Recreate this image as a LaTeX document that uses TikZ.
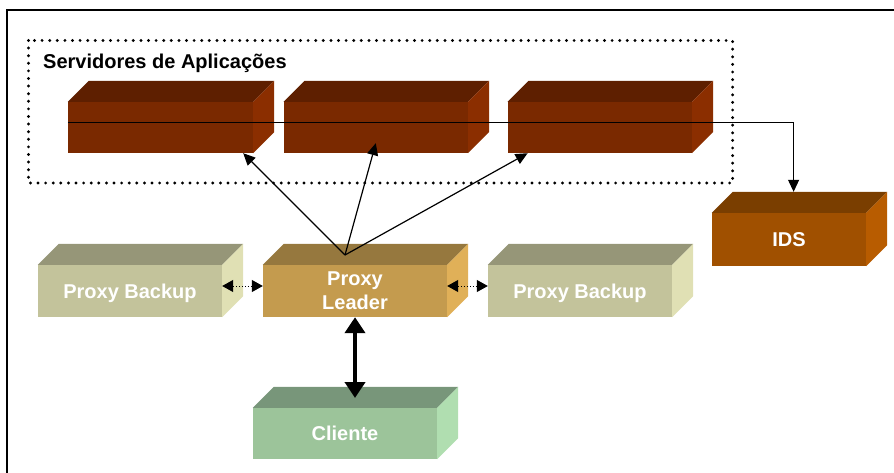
\documentclass[tikz,border=0pt]{standalone}
\usepackage{fontspec}
\setmainfont{Liberation Sans}
\usetikzlibrary{arrows.meta}

\definecolor{srvfront}{HTML}{7A2900}
\definecolor{srvtop}{HTML}{5E1F00}
\definecolor{srvside}{HTML}{8B2E00}
\definecolor{leadfront}{HTML}{C49B4E}
\definecolor{leadtop}{HTML}{96783E}
\definecolor{leadside}{HTML}{E0B058}
\definecolor{bkpfront}{HTML}{C3C39B}
\definecolor{bkptop}{HTML}{969678}
\definecolor{bkpside}{HTML}{E0E0B4}
\definecolor{clifront}{HTML}{9CC49A}
\definecolor{clitop}{HTML}{78967A}
\definecolor{cliside}{HTML}{B0DEB0}
\definecolor{idsfront}{HTML}{A05000}
\definecolor{idstop}{HTML}{7A3E00}
\definecolor{idsside}{HTML}{B85C00}

% top and side faces of a block: node, top colour, side colour
\newcommand{\blockfaces}[3]{%
  \fill[#2] (#1.north west) -- ++(21,21) -- ([shift={(21,21)}]#1.north east) -- (#1.north east) -- cycle;
  \fill[#3] (#1.north east) -- ++(21,21) -- ([shift={(21,21)}]#1.south east) -- (#1.south east) -- cycle;}

\begin{document}
\begin{tikzpicture}[x=1pt, y=1pt, >={Triangle[length=12pt,width=11pt]},
    block/.style={rectangle, minimum height=51pt, minimum width=184pt, inner sep=0pt,
                  text=white, align=center, font=\bfseries\fontsize{20}{24}\selectfont},
    backup/.style={block, fill=bkpfront, minimum height=52pt, text depth=-5pt},
    link/.style={->, line width=1.2pt},
    peer/.style={<->, dotted, line width=1pt, >={Triangle[length=11pt,width=12pt]}}]

  \useasboundingbox (0,0) rectangle (894,472);
  \draw[line width=1.5pt] (7,-5) -- (7,462) -- (900,462);

  % servidores
  \node[block, fill=srvfront, minimum width=185pt] (S1) at (160.5,344.5) {};
  \node[block, fill=srvfront] (S2) at (375.8,344.5) {};
  \node[block, fill=srvfront] (S3) at (599.8,344.5) {};
  \blockfaces{S1}{srvtop}{srvside}
  \blockfaces{S2}{srvtop}{srvside}
  \blockfaces{S3}{srvtop}{srvside}
  \draw[line width=3.2pt, line cap=round, dash pattern=on 0pt off 7.6pt]
       (28.5,431.5) rectangle (732.6,289);
  \node[anchor=base west, inner sep=0pt, font=\bfseries\fontsize{20}{24}\selectfont]
       (title) at (43,403) {Servidores de Aplicações};

  % proxies
  \node[backup] (PB1) at (130,181) {Proxy Backup};
  \node[block, fill=leadfront, minimum height=52pt, text depth=-4pt] (PL) at (355,181) {Proxy\\Leader};
  \node[backup] (PB2) at (580,181) {Proxy Backup};
  \blockfaces{PB1}{bkptop}{bkpside}
  \blockfaces{PL}{leadtop}{leadside}
  \blockfaces{PB2}{bkptop}{bkpside}

  \node[block, fill=clifront] (CL) at (345,38.5) {Cliente};
  \blockfaces{CL}{clitop}{cliside}
  \node[block, fill=idsfront, minimum width=154pt, minimum height=53pt] (IDS) at (789,232.5) {IDS};
  \blockfaces{IDS}{idstop}{idsside}

  \coordinate (lt) at (345,217);
  \coordinate (ct) at (355,74);

  \draw[link] ([yshift=5pt]S1.west) -| ([xshift=4.6pt,yshift=21pt]IDS.north);
  \draw[link] (lt) -- ([xshift=-10pt]S1.south east);
  \draw[link] (lt) -- ([yshift=10pt]S2.south);
  \draw[link] (lt) -- ([xshift=20pt]S3.south west);
  \draw[peer] ([yshift=5pt]PB1.east) -- ([yshift=5pt]PL.west);
  \draw[peer] ([yshift=5pt]PL.east) -- ([yshift=5pt]PB2.west);
  \draw[<->, line width=4pt, >={Triangle[length=16pt,width=20pt]}] (PL.south) -- (ct);
\end{tikzpicture}
\end{document}
